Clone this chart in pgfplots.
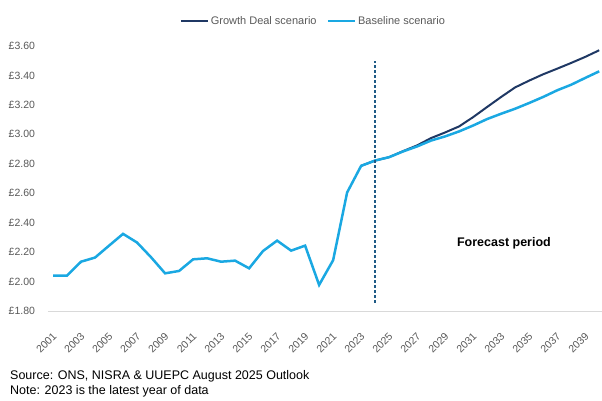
\documentclass[border=0pt]{standalone}
\usepackage{pgfplots}
\pgfplotsset{compat=1.18}
\usepackage{fontspec}
\setmainfont{Liberation Sans}
\definecolor{growth}{HTML}{1F3864}
\definecolor{base}{HTML}{1AA8E2}
\definecolor{dashc}{HTML}{1F5A85}
\definecolor{ticktext}{HTML}{595959}
\definecolor{axisgray}{HTML}{D9D9D9}
\begin{document}
\begin{tikzpicture}[x=1pt,y=1pt]
\path[use as bounding box] (0,0) rectangle (602,400);
\begin{axis}[
  at={(48pt,89pt)}, anchor=south west,
  scale only axis, width=554pt, height=265pt,
  xmin=2000.64, xmax=2040.2, ymin=1.8, ymax=3.6,
  separate axis lines,
  axis x line*=bottom, axis y line*=left,
  y axis line style={draw=none},
  x axis line style={draw=axisgray, line width=1pt},
  tick style={draw=none},
  ytick={1.8,2.0,2.2,2.4,2.6,2.8,3.0,3.2,3.4,3.6},
  yticklabels={£1.80,£2.00,£2.20,£2.40,£2.60,£2.80,£3.00,£3.20,£3.40,£3.60},
  yticklabel style={anchor=east, xshift=-9.5pt, text=ticktext, font=\fontsize{10.5}{12}\selectfont},
  xtick={2001,2003,2005,2007,2009,2011,2013,2015,2017,2019,2021,2023,2025,2027,2029,2031,2033,2035,2037,2039},
  xticklabels={2001,2003,2005,2007,2009,2011,2013,2015,2017,2019,2021,2023,2025,2027,2029,2031,2033,2035,2037,2039},
  xticklabel style={xshift=-1pt, yshift=-16pt, rotate=45, anchor=north east, text=ticktext, font=\fontsize{10.5}{12}\selectfont},
  legend style={at={(axis description cs:0.479,1.094)}, anchor=center, draw=none, fill=none,
    font=\fontsize{11}{13}\selectfont, text=ticktext, legend columns=2,
    /tikz/every even column/.append style={column sep=8pt}},
  legend cell align=left,
  legend image code/.code={\draw[#1] (0pt,0pt) -- (27pt,0pt);},
  clip=false,
]
\addplot[growth, line width=2pt] coordinates {
(2023,2.786) (2024,2.822) (2025,2.845) (2026,2.886) (2027,2.925) (2028,2.975)
(2029,3.013) (2030,3.054) (2031,3.117) (2032,3.186) (2033,3.254) (2034,3.319)
(2035,3.365) (2036,3.408) (2037,3.446) (2038,3.485) (2039,3.526) (2040,3.571)};
\addlegendentry{Growth Deal scenario}
\addplot[base, line width=2.5pt] coordinates {
(2001,2.04) (2002,2.04) (2003,2.135) (2004,2.163) (2005,2.244) (2006,2.324)
(2007,2.265) (2008,2.165) (2009,2.056) (2010,2.072) (2011,2.151) (2012,2.158)
(2013,2.135) (2014,2.142) (2015,2.09) (2016,2.208) (2017,2.278) (2018,2.21)
(2019,2.244) (2020,1.977) (2021,2.145) (2022,2.605) (2023,2.786) (2024,2.822)
(2025,2.845) (2026,2.884) (2027,2.918) (2028,2.958) (2029,2.986) (2030,3.02)
(2031,3.06) (2032,3.104) (2033,3.14) (2034,3.174) (2035,3.213) (2036,3.254)
(2037,3.299) (2038,3.337) (2039,3.383) (2040,3.428)};
\addlegendentry{Baseline scenario}
\addplot[dashc, line width=2pt, dash pattern=on 3pt off 2pt, forget plot] coordinates {(2024,1.855) (2024,3.495)};
\node[font=\fontsize{12.5}{14}\selectfont\bfseries] at (axis cs:2033.2,2.263) {Forecast period};
\end{axis}
\node[anchor=base west, font=\fontsize{12.5}{14}\selectfont, inner sep=0pt] at (10,21) {Source: ONS, NISRA \& UUEPC August 2025 Outlook};
\node[anchor=base west, font=\fontsize{12.5}{14}\selectfont, inner sep=0pt] at (10,6) {Note: 2023 is the latest year of data};
\end{tikzpicture}
\end{document}
